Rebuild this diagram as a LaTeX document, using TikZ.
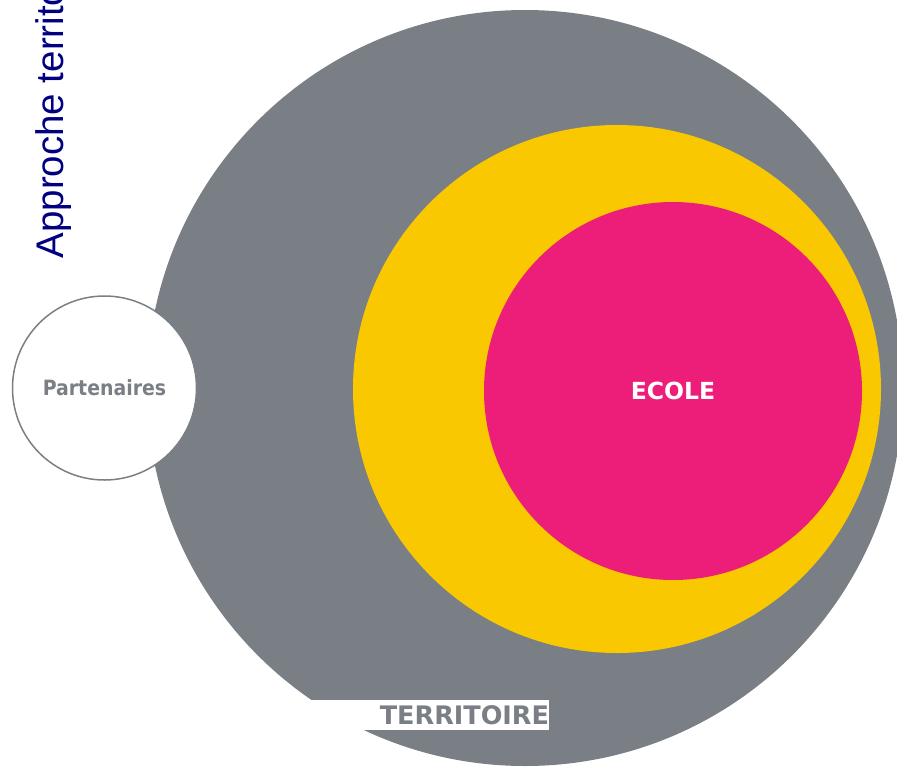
\documentclass[tikz,border=0pt]{standalone}
\usepackage{fontspec}
\setmainfont{DejaVu Sans}
\newfontfamily\condfont{DejaVu Sans Condensed}
\newfontfamily\titlefont{Liberation Sans}
\usepackage{tikz}

\definecolor{terrgray}{RGB}{122,127,133}
\definecolor{ecoleyellow}{RGB}{249,200,0}
\definecolor{ecolepink}{RGB}{236,30,121}
\definecolor{titleblue}{RGB}{0,0,128}

\begin{document}
\begin{tikzpicture}[x=1pt,y=-1pt]
\tikzset{disc/.style={circle,inner sep=0pt,outer sep=0pt},
  lbl/.style={font=\bfseries\fontsize{#1}{#1}\selectfont}}

\useasboundingbox (0,0) rectangle (897,766);
\clip (0,0) rectangle (897,766);

\node[disc,fill=terrgray,minimum size=756] (terr) at (525,388) {};
\node[disc,fill=ecoleyellow,minimum size=528] (milieu) at (617,389) {};
\node[disc,fill=ecolepink,minimum size=378,text=white,lbl=23.5] (ecole) at (673,391) {ECOLE};
\node[disc,draw=terrgray,line width=1.5pt,fill=white,minimum size=184,text=terrgray,font=\condfont\bfseries\fontsize{21}{21}\selectfont] (part) at (104.5,388) {Partenaires};
%\node[lbl=24] at (460,715) {};
\node[fill=white,inner sep=0pt,minimum height=30,text width=245,align=right,text=terrgray,lbl=25.5] (terrlbl) at (426.5,715) {TERRITOIRE\hspace{8pt}};
\node[rotate=90,anchor=base west,text=titleblue,font=\titlefont\fontsize{38.5}{38.5}\selectfont] (titre) at (63,262) {Approche territo};
\end{tikzpicture}
\end{document}
